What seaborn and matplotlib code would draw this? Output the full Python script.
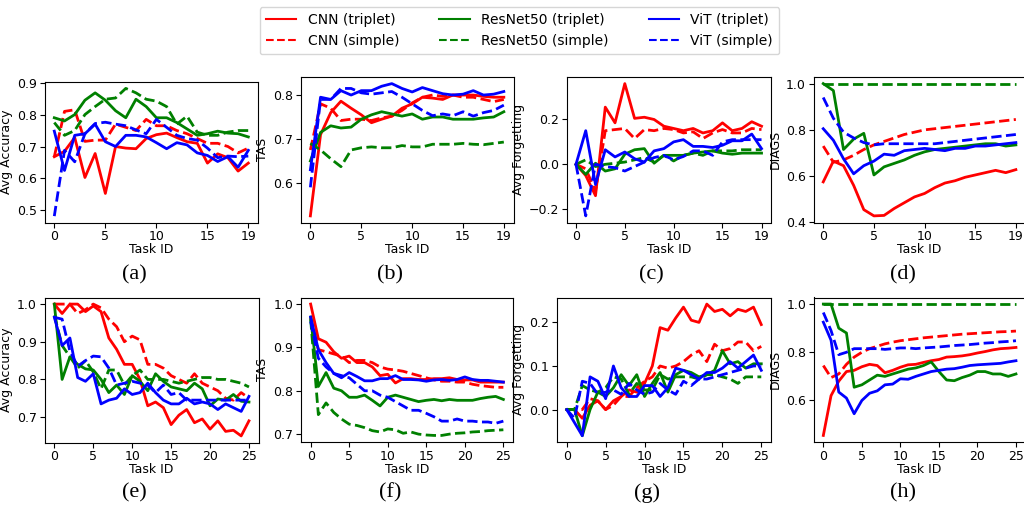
import numpy as np
import pandas as pd
import matplotlib
matplotlib.use("Agg")
import matplotlib.pyplot as plt
from matplotlib.lines import Line2D
import seaborn as sns

# ---- data ----
tasks_top = list(range(20))
tasks_bot = list(range(26))

# (a) Avg Accuracy, 20 tasks
a_cnn_t = [0.668, 0.685, 0.728, 0.603, 0.678, 0.553, 0.700, 0.695, 0.693, 0.725, 0.737, 0.742, 0.728, 0.715, 0.710, 0.648, 0.677, 0.665, 0.623, 0.648]
a_cnn_s = [0.668, 0.810, 0.815, 0.716, 0.720, 0.720, 0.770, 0.760, 0.750, 0.785, 0.765, 0.765, 0.750, 0.740, 0.725, 0.710, 0.710, 0.700, 0.680, 0.695]
a_res_t = [0.790, 0.780, 0.800, 0.845, 0.868, 0.845, 0.812, 0.790, 0.848, 0.825, 0.790, 0.790, 0.775, 0.755, 0.735, 0.740, 0.748, 0.742, 0.740, 0.730]
a_res_s = [0.775, 0.735, 0.750, 0.800, 0.825, 0.848, 0.852, 0.882, 0.868, 0.848, 0.842, 0.825, 0.770, 0.795, 0.745, 0.735, 0.735, 0.745, 0.750, 0.750]
a_vit_t = [0.748, 0.625, 0.735, 0.740, 0.770, 0.715, 0.700, 0.735, 0.735, 0.730, 0.712, 0.693, 0.712, 0.705, 0.680, 0.672, 0.653, 0.668, 0.635, 0.688]
a_vit_s = [0.482, 0.688, 0.652, 0.740, 0.772, 0.776, 0.770, 0.765, 0.752, 0.740, 0.785, 0.760, 0.735, 0.725, 0.720, 0.695, 0.665, 0.670, 0.668, 0.670]

# (b) TAS, 20 tasks
b_cnn_t = [0.525, 0.710, 0.760, 0.786, 0.770, 0.755, 0.737, 0.745, 0.752, 0.770, 0.780, 0.795, 0.793, 0.790, 0.800, 0.800, 0.800, 0.797, 0.795, 0.795]
b_cnn_s = [0.675, 0.780, 0.770, 0.742, 0.745, 0.745, 0.742, 0.748, 0.752, 0.765, 0.782, 0.795, 0.800, 0.797, 0.800, 0.795, 0.795, 0.790, 0.785, 0.790]
b_res_t = [0.650, 0.715, 0.730, 0.725, 0.727, 0.745, 0.755, 0.762, 0.757, 0.752, 0.757, 0.745, 0.750, 0.750, 0.745, 0.745, 0.745, 0.748, 0.750, 0.762]
b_res_s = [0.690, 0.675, 0.655, 0.637, 0.675, 0.680, 0.682, 0.680, 0.680, 0.685, 0.682, 0.682, 0.688, 0.688, 0.688, 0.690, 0.688, 0.687, 0.690, 0.693]
b_vit_t = [0.630, 0.795, 0.790, 0.810, 0.800, 0.810, 0.810, 0.820, 0.826, 0.815, 0.807, 0.817, 0.810, 0.803, 0.800, 0.802, 0.810, 0.800, 0.802, 0.808]
b_vit_s = [0.590, 0.790, 0.790, 0.815, 0.815, 0.805, 0.802, 0.805, 0.808, 0.795, 0.780, 0.765, 0.753, 0.757, 0.753, 0.762, 0.752, 0.760, 0.765, 0.777]

# (c) Avg Forgetting, 20 tasks
c_cnn_t = [0.0, -0.05, -0.14, 0.255, 0.185, 0.36, 0.205, 0.21, 0.20, 0.17, 0.16, 0.15, 0.16, 0.14, 0.15, 0.185, 0.15, 0.16, 0.19, 0.17]
c_cnn_s = [0.0, -0.02, -0.12, 0.15, 0.155, 0.16, 0.115, 0.155, 0.15, 0.16, 0.155, 0.14, 0.145, 0.115, 0.14, 0.155, 0.14, 0.14, 0.16, 0.155]
c_res_t = [0.0, -0.045, 0.005, -0.03, -0.02, 0.045, 0.065, 0.07, 0.005, 0.04, 0.04, 0.04, 0.05, 0.055, 0.06, 0.05, 0.045, 0.05, 0.05, 0.05]
c_res_s = [0.0, 0.02, -0.01, 0.0, 0.005, 0.01, 0.02, 0.03, 0.01, 0.04, 0.015, 0.04, 0.05, 0.04, 0.06, 0.06, 0.06, 0.065, 0.065, 0.065]
c_vit_t = [0.0, 0.15, -0.09, 0.065, 0.033, 0.055, 0.025, 0.01, 0.06, 0.07, 0.10, 0.11, 0.08, 0.08, 0.075, 0.085, 0.105, 0.105, 0.135, 0.07]
c_vit_s = [0.0, -0.23, 0.0, -0.01, -0.015, -0.03, -0.01, 0.01, 0.03, 0.04, 0.02, 0.035, 0.06, 0.06, 0.04, 0.10, 0.11, 0.11, 0.11, 0.11]

# (d) DIAGS, 20 tasks
d_cnn_t = [0.575, 0.665, 0.645, 0.560, 0.455, 0.428, 0.430, 0.460, 0.485, 0.510, 0.525, 0.550, 0.570, 0.580, 0.595, 0.605, 0.615, 0.625, 0.615, 0.628]
d_cnn_s = [0.730, 0.660, 0.670, 0.690, 0.715, 0.735, 0.750, 0.765, 0.780, 0.790, 0.800, 0.805, 0.810, 0.815, 0.820, 0.825, 0.830, 0.835, 0.840, 0.845]
d_res_t = [1.000, 0.970, 0.715, 0.760, 0.785, 0.605, 0.640, 0.655, 0.670, 0.690, 0.705, 0.715, 0.720, 0.725, 0.730, 0.735, 0.740, 0.740, 0.730, 0.735]
d_res_s = [1.0] * 20
d_vit_t = [0.805, 0.755, 0.675, 0.610, 0.645, 0.665, 0.695, 0.690, 0.710, 0.715, 0.720, 0.715, 0.710, 0.720, 0.720, 0.730, 0.730, 0.735, 0.740, 0.745]
d_vit_s = [0.940, 0.850, 0.790, 0.765, 0.745, 0.735, 0.740, 0.740, 0.740, 0.740, 0.740, 0.740, 0.745, 0.750, 0.755, 0.760, 0.765, 0.770, 0.775, 0.780]

# (e) Avg Accuracy, 26 tasks
e_cnn_t = [1.0, 0.975, 1.0, 1.0, 0.98, 0.995, 0.98, 0.91, 0.88, 0.84, 0.84, 0.80, 0.73, 0.74, 0.725, 0.68, 0.705, 0.72, 0.685, 0.695, 0.668, 0.69, 0.662, 0.665, 0.65, 0.69]
e_cnn_s = [1.0, 1.0, 1.0, 0.975, 0.985, 1.0, 0.99, 0.96, 0.94, 0.90, 0.915, 0.905, 0.84, 0.84, 0.83, 0.81, 0.80, 0.79, 0.815, 0.79, 0.78, 0.77, 0.75, 0.745, 0.765, 0.75]
e_res_t = [1.0, 0.80, 0.86, 0.84, 0.828, 0.825, 0.80, 0.765, 0.785, 0.76, 0.81, 0.795, 0.77, 0.815, 0.795, 0.78, 0.775, 0.77, 0.79, 0.775, 0.73, 0.748, 0.745, 0.76, 0.742, 0.74]
e_res_s = [0.97, 0.89, 0.86, 0.83, 0.85, 0.82, 0.775, 0.825, 0.825, 0.785, 0.81, 0.825, 0.80, 0.80, 0.80, 0.795, 0.79, 0.795, 0.80, 0.805, 0.805, 0.80, 0.80, 0.795, 0.79, 0.78]
e_vit_t = [0.965, 0.89, 0.91, 0.805, 0.795, 0.815, 0.735, 0.745, 0.75, 0.775, 0.76, 0.765, 0.79, 0.765, 0.745, 0.735, 0.735, 0.75, 0.735, 0.74, 0.735, 0.72, 0.735, 0.725, 0.715, 0.755]
e_vit_s = [0.965, 0.96, 0.875, 0.835, 0.85, 0.862, 0.86, 0.83, 0.785, 0.79, 0.795, 0.79, 0.785, 0.765, 0.785, 0.76, 0.765, 0.745, 0.745, 0.745, 0.745, 0.745, 0.745, 0.745, 0.745, 0.745]

# (f) TAS, 26 tasks
f_cnn_t = [1.0, 0.92, 0.912, 0.89, 0.875, 0.88, 0.865, 0.865, 0.855, 0.835, 0.838, 0.818, 0.828, 0.828, 0.826, 0.826, 0.828, 0.828, 0.83, 0.826, 0.825, 0.825, 0.82, 0.82, 0.82, 0.82]
f_cnn_s = [0.97, 0.895, 0.89, 0.885, 0.88, 0.865, 0.87, 0.87, 0.865, 0.855, 0.85, 0.848, 0.845, 0.84, 0.835, 0.83, 0.825, 0.822, 0.822, 0.82, 0.82, 0.815, 0.812, 0.81, 0.808, 0.808]
f_res_t = [0.97, 0.81, 0.842, 0.806, 0.80, 0.785, 0.785, 0.79, 0.778, 0.765, 0.785, 0.79, 0.785, 0.78, 0.775, 0.778, 0.78, 0.777, 0.78, 0.778, 0.778, 0.778, 0.782, 0.785, 0.787, 0.78]
f_res_s = [0.965, 0.745, 0.772, 0.75, 0.735, 0.723, 0.72, 0.715, 0.708, 0.705, 0.712, 0.71, 0.702, 0.705, 0.70, 0.698, 0.697, 0.697, 0.70, 0.702, 0.703, 0.705, 0.706, 0.708, 0.709, 0.71]
f_vit_t = [0.97, 0.895, 0.865, 0.84, 0.83, 0.842, 0.833, 0.823, 0.823, 0.828, 0.828, 0.835, 0.826, 0.826, 0.825, 0.822, 0.825, 0.826, 0.824, 0.826, 0.832, 0.826, 0.824, 0.824, 0.822, 0.82]
f_vit_s = [0.96, 0.875, 0.855, 0.84, 0.835, 0.83, 0.815, 0.80, 0.80, 0.79, 0.785, 0.775, 0.765, 0.755, 0.755, 0.748, 0.74, 0.73, 0.73, 0.735, 0.73, 0.73, 0.728, 0.728, 0.725, 0.73]

# (g) Avg Forgetting, 26 tasks
g_cnn_t = [0.0, 0.0, -0.02, 0.01, 0.02, 0.0, 0.02, 0.03, 0.045, 0.04, 0.06, 0.10, 0.188, 0.182, 0.21, 0.235, 0.205, 0.20, 0.242, 0.225, 0.23, 0.215, 0.23, 0.225, 0.235, 0.195]
g_cnn_s = [0.0, 0.0, 0.0, 0.025, 0.02, 0.0, 0.01, 0.03, 0.03, 0.05, 0.065, 0.075, 0.10, 0.095, 0.10, 0.11, 0.125, 0.135, 0.11, 0.15, 0.135, 0.14, 0.155, 0.155, 0.135, 0.145]
g_res_t = [0.0, 0.0, -0.06, 0.0, 0.04, 0.03, 0.05, 0.08, 0.055, 0.08, 0.03, 0.06, 0.085, 0.04, 0.08, 0.09, 0.085, 0.075, 0.08, 0.09, 0.135, 0.105, 0.11, 0.095, 0.105, 0.105]
g_res_s = [0.0, 0.0, 0.055, 0.045, 0.04, 0.05, 0.075, 0.07, 0.035, 0.06, 0.045, 0.045, 0.08, 0.07, 0.075, 0.075, 0.075, 0.07, 0.08, 0.08, 0.075, 0.07, 0.06, 0.075, 0.075, 0.075]
g_vit_t = [0.0, -0.03, -0.06, 0.075, 0.065, 0.025, 0.10, 0.05, 0.03, 0.03, 0.055, 0.055, 0.03, 0.05, 0.095, 0.09, 0.08, 0.07, 0.085, 0.085, 0.095, 0.11, 0.095, 0.11, 0.125, 0.09]
g_vit_s = [0.0, -0.02, 0.065, 0.06, 0.035, 0.04, 0.045, 0.035, 0.06, 0.045, 0.035, 0.04, 0.06, 0.045, 0.035, 0.065, 0.055, 0.07, 0.07, 0.075, 0.08, 0.085, 0.09, 0.095, 0.10, 0.10]

# (h) DIAGS, 26 tasks
h_cnn_t = [0.455, 0.62, 0.68, 0.72, 0.725, 0.74, 0.75, 0.745, 0.715, 0.725, 0.738, 0.748, 0.75, 0.758, 0.765, 0.77, 0.78, 0.782, 0.785, 0.79, 0.797, 0.803, 0.81, 0.815, 0.817, 0.82]
h_cnn_s = [0.745, 0.695, 0.71, 0.75, 0.78, 0.80, 0.815, 0.825, 0.835, 0.842, 0.848, 0.852, 0.856, 0.86, 0.863, 0.866, 0.869, 0.872, 0.875, 0.877, 0.879, 0.881, 0.883, 0.885, 0.886, 0.888]
h_res_t = [1.0, 1.0, 0.90, 0.88, 0.655, 0.665, 0.685, 0.705, 0.70, 0.71, 0.72, 0.73, 0.735, 0.745, 0.76, 0.72, 0.685, 0.682, 0.695, 0.705, 0.72, 0.72, 0.71, 0.71, 0.70, 0.71]
h_res_s = [1.0] * 26
h_vit_t = [0.925, 0.85, 0.635, 0.61, 0.545, 0.60, 0.63, 0.64, 0.665, 0.668, 0.69, 0.688, 0.70, 0.71, 0.72, 0.725, 0.73, 0.732, 0.738, 0.745, 0.748, 0.75, 0.752, 0.754, 0.76, 0.765]
h_vit_s = [0.965, 0.89, 0.79, 0.80, 0.815, 0.815, 0.815, 0.815, 0.812, 0.815, 0.818, 0.818, 0.815, 0.818, 0.82, 0.822, 0.825, 0.828, 0.83, 0.832, 0.835, 0.838, 0.84, 0.843, 0.845, 0.848]

models = ["CNN", "ResNet50", "ViT"]
losses = ["triplet", "simple"]
panel_letters = ["a", "b", "c", "d", "e", "f", "g", "h"]
ylabels = ["Avg Accuracy", "TAS", "Avg Forgetting", "DIAGS"] * 2
xticks_top = [0, 5, 10, 15, 19]
xticks_bot = [0, 5, 10, 15, 20, 25]

palette = {"CNN": "red", "ResNet50": "green", "ViT": "blue"}

W, H = 1024, 508
# axes boxes in pixels: left, top, right, bottom
boxes = [
    (44.6, 82, 258, 222.5),
    (300.7, 77, 513.5, 222.5),
    (566.7, 77, 770.8, 222.5),
    (813.6, 77, 1025.5, 222.5),
    (44.6, 297.5, 258.7, 442.5),
    (301, 297.5, 513, 442),
    (557, 297.5, 771, 442.3),
    (813.7, 297.5, 1025.6, 442),
]


def long_frame(prefix, tasks):
    rows = []
    g = globals()
    for m, key in zip(models, ["cnn", "res", "vit"]):
        for loss, suf in zip(losses, ["t", "s"]):
            for t, v in zip(tasks, g[f"{prefix}_{key}_{suf}"]):
                rows.append({"task": t, "value": v, "model": m, "loss": loss})
    return pd.DataFrame(rows)


fig = plt.figure(figsize=(W / 100, H / 100), dpi=100)

for i, letter in enumerate(panel_letters):
    l, t, r, b = boxes[i]
    ax = fig.add_axes([l / W, 1 - b / H, (r - l) / W, (b - t) / H])
    tasks = tasks_top if i < 4 else tasks_bot
    df = long_frame(letter, tasks)
    sns.lineplot(
        data=df, x="task", y="value", hue="model", style="loss",
        palette=palette, hue_order=models, style_order=losses,
        dashes={"triplet": "", "simple": (3.7, 1.6)},
        linewidth=2, legend=False, ax=ax,
    )
    ax.set_xticks(xticks_top if i < 4 else xticks_bot)
    ax.set_xlabel("Task ID", fontsize=9, labelpad=0)
    ax.set_ylabel(ylabels[i], fontsize=9, labelpad=3)
    ax.tick_params(labelsize=9, pad=2)
    cx = (l + r) / 2 - 17
    cy = 275 if i < 4 else 493
    fig.text(cx / W, 1 - cy / H, f"({letter})", ha="center", va="center",
             fontsize=16, family="Liberation Serif")

handles = []
labels = []
for m in models:
    for loss in losses:
        handles.append(Line2D([], [], color=palette[m], lw=1.5,
                              ls="-" if loss == "triplet" else "--"))
        labels.append(f"{m} ({loss})")

fig.legend(handles, labels, ncol=3, loc="upper center",
           bbox_to_anchor=(519.5 / W, 1.0), fontsize=10,
           columnspacing=2.9, handlelength=2.2, labelspacing=0.5,
           borderpad=0.45, frameon=True)

fig.savefig("out.png", dpi=100)
